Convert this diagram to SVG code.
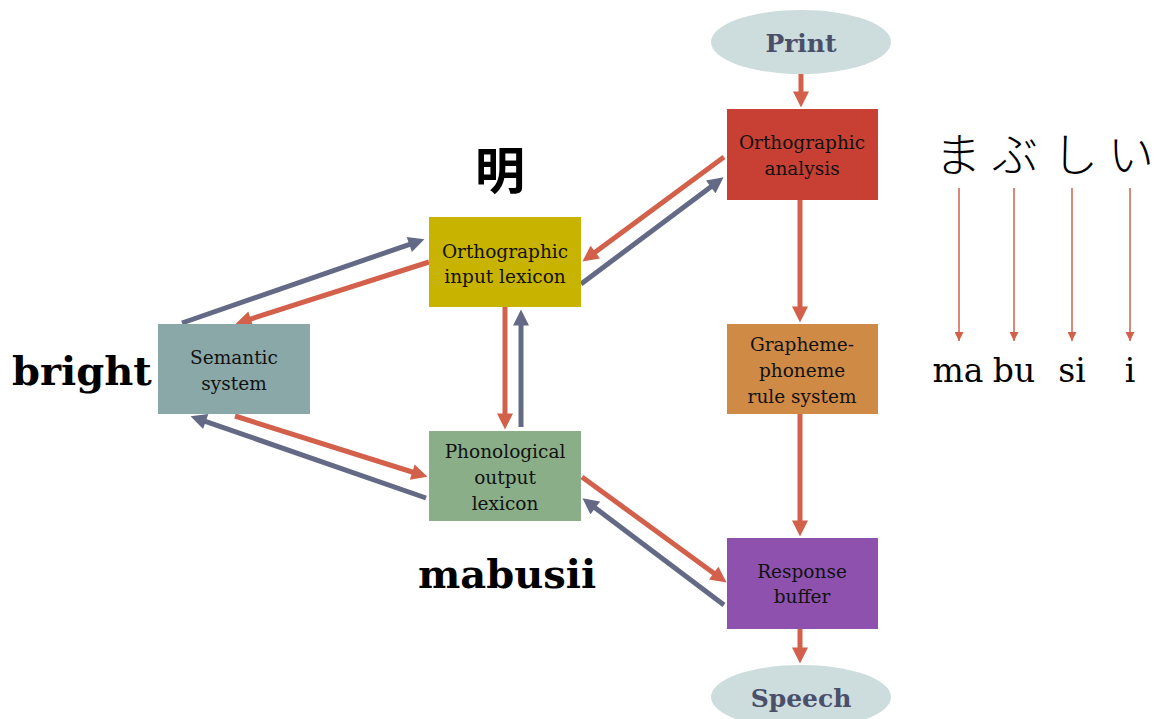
<svg xmlns="http://www.w3.org/2000/svg" width="1156" height="719" viewBox="0 0 1156 719">
<style>
  .box { stroke: none; }
  .bt { font-family: "DejaVu Serif", "Liberation Serif", serif; font-size: 18.5px; fill: #111; text-anchor: middle; }
  .et { font-family: "DejaVu Serif", "Liberation Serif", serif; font-size: 25px; font-weight: bold; fill: #4a4f6a; text-anchor: middle; }
  .big { font-family: "DejaVu Serif", "Liberation Serif", serif; font-size: 40px; font-weight: bold; fill: #000; }
  .jp { font-family: "Noto Sans CJK JP", sans-serif; font-weight: 300; fill: #000; text-anchor: middle; }
  .jpb { font-family: "Noto Sans CJK JP", sans-serif; font-weight: bold; font-size: 50px; fill: #000; text-anchor: middle; }
  .rom { font-family: "DejaVu Serif", "Liberation Serif", serif; font-size: 33px; fill: #000; text-anchor: middle; }
  .o { stroke: #d2604a; stroke-width: 5; fill: none; marker-end: url(#ao); }
  .g { stroke: #646a86; stroke-width: 5; fill: none; marker-end: url(#ag); }
  .thin { stroke: #d2604a; stroke-width: 1.5; fill: none; marker-end: url(#at); }
</style>
<defs>
  <marker id="ao" viewBox="0 0 10 10" markerUnits="userSpaceOnUse" markerWidth="17" markerHeight="16" refX="4.1" refY="5" orient="auto">
    <path d="M0,0 L10,5 L0,10 z" fill="#d2604a"/>
  </marker>
  <marker id="ag" viewBox="0 0 10 10" markerUnits="userSpaceOnUse" markerWidth="17" markerHeight="16" refX="4.1" refY="5" orient="auto">
    <path d="M0,0 L10,5 L0,10 z" fill="#646a86"/>
  </marker>
  <marker id="at" viewBox="0 0 10 10" markerUnits="userSpaceOnUse" markerWidth="10" markerHeight="9" refX="10" refY="5" orient="auto">
    <path d="M0,0 L10,5 L0,10 z" fill="#d2604a"/>
  </marker>
</defs>
<rect width="1156" height="719" fill="#ffffff"/>

<g id="connectors">
  <line class="o" x1="801" y1="74" x2="801" y2="98"/>
  <line class="o" x1="800" y1="200" x2="800" y2="313"/>
  <line class="o" x1="800" y1="414" x2="800" y2="527"/>
  <line class="o" x1="800" y1="629" x2="800" y2="654"/>
  <line class="o" x1="724" y1="157" x2="590" y2="256"/>
  <line class="g" x1="581" y1="284" x2="716" y2="183"/>
  <line class="o" x1="429" y1="262" x2="244.5" y2="321"/>
  <line class="g" x1="182" y1="323" x2="415.5" y2="242.3"/>
  <line class="o" x1="235" y1="416" x2="418.5" y2="474"/>
  <line class="g" x1="426" y1="498" x2="199.5" y2="419.3"/>
  <line class="o" x1="505" y1="307" x2="505" y2="420"/>
  <line class="g" x1="521" y1="427" x2="521" y2="319"/>
  <line class="o" x1="582" y1="477" x2="719" y2="577"/>
  <line class="g" x1="724" y1="605" x2="590" y2="504"/>
  <line class="thin" x1="959" y1="188" x2="959" y2="341"/>
  <line class="thin" x1="1014" y1="188" x2="1014" y2="341"/>
  <line class="thin" x1="1072" y1="188" x2="1072" y2="341"/>
  <line class="thin" x1="1130" y1="188" x2="1130" y2="341"/>
</g>

<g id="print">
  <ellipse cx="801" cy="42" rx="90" ry="32" fill="#cddcdc"/>
  <text class="et" x="801" y="52">Print</text>
</g>
<g id="orthographic-analysis">
  <rect class="box" x="727" y="109" width="151" height="91" fill="#c84033"/>
  <text class="bt" x="802" y="149">Orthographic</text>
  <text class="bt" x="802" y="175">analysis</text>
</g>
<g id="orthographic-input-lexicon">
  <rect class="box" x="429" y="217" width="152" height="90" fill="#c8b400"/>
  <text class="bt" x="505" y="258">Orthographic</text>
  <text class="bt" x="505" y="283">input lexicon</text>
</g>
<g id="semantic-system">
  <rect class="box" x="158" y="324" width="152" height="90" fill="#8aa8a8"/>
  <text class="bt" x="234" y="364">Semantic</text>
  <text class="bt" x="234" y="390">system</text>
</g>
<g id="phonological-output-lexicon">
  <rect class="box" x="429" y="431" width="152" height="90" fill="#8aaf88"/>
  <text class="bt" x="505" y="458">Phonological</text>
  <text class="bt" x="505" y="484">output</text>
  <text class="bt" x="505" y="510">lexicon</text>
</g>
<g id="grapheme-phoneme">
  <rect class="box" x="727" y="324" width="151" height="90" fill="#cf8a45"/>
  <text class="bt" x="802" y="351">Grapheme-</text>
  <text class="bt" x="802" y="377">phoneme</text>
  <text class="bt" x="802" y="403">rule system</text>
</g>
<g id="response-buffer">
  <rect class="box" x="727" y="538" width="151" height="91" fill="#8e52ae"/>
  <text class="bt" x="802" y="578">Response</text>
  <text class="bt" x="802" y="603">buffer</text>
</g>
<g id="speech">
  <ellipse cx="801" cy="697" rx="90" ry="32" fill="#cddcdc"/>
  <text class="et" x="801" y="707">Speech</text>
</g>

<g id="labels">
  <text class="big" x="12" y="385">bright</text>
  <text class="big" x="418" y="588">mabusii</text>
  <text class="jpb" x="500" y="189">明</text>
  <text class="jp" x="958" y="171" font-size="46">ま</text>
  <text class="jp" x="1015" y="171" font-size="46">ぶ</text>
  <text class="jp" x="1075" y="171" font-size="46">し</text>
  <text class="jp" x="1131" y="171" font-size="46">い</text>
  <text class="rom" x="958" y="382">ma</text>
  <text class="rom" x="1014" y="382">bu</text>
  <text class="rom" x="1072" y="382">si</text>
  <text class="rom" x="1130" y="382">i</text>
</g>
</svg>
